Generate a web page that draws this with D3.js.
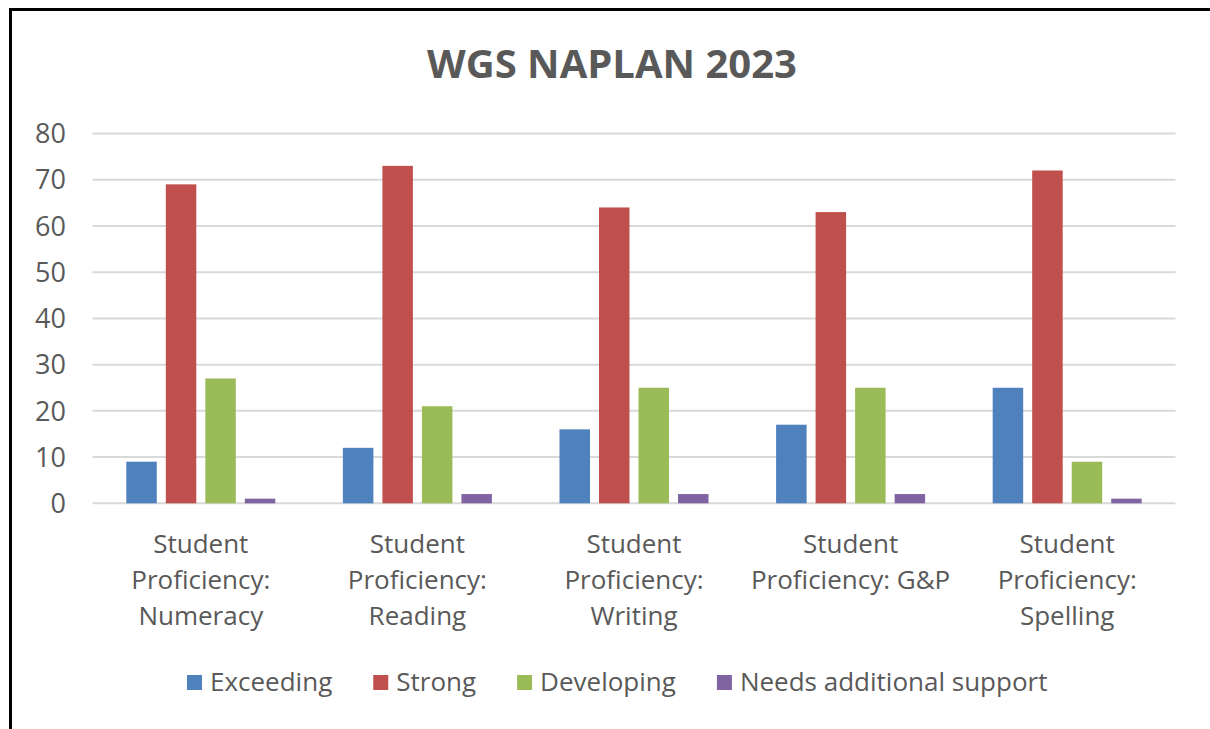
<!DOCTYPE html>
<html>
<head>
<meta charset="utf-8">
<script src="https://cdn.jsdelivr.net/npm/d3@7"></script>
<style>
  body { margin: 0; background: #fff; }
  text { font-family: "Open Sans", sans-serif; fill: #595959; }
</style>
</head>
<body>
<div id="chart"></div>
<script>
// chart data
var title = "WGS NAPLAN 2023";
var categories = ["Student Proficiency: Numeracy", "Student Proficiency: Reading",
                  "Student Proficiency: Writing", "Student Proficiency: G&P",
                  "Student Proficiency: Spelling"];
var seriesNames = ["Exceeding", "Strong", "Developing", "Needs additional support"];
var exceeding  = [9, 12, 16, 17, 25];
var strong     = [69, 73, 64, 63, 72];
var developing = [27, 21, 25, 25, 9];
var needs      = [1, 2, 2, 2, 1];
var colors = ["#4F81BD", "#C0504D", "#9BBB59", "#8064A2"];
var yTicks = [0, 10, 20, 30, 40, 50, 60, 70, 80];

var seriesValues = [exceeding, strong, developing, needs];

var W = 1210, H = 729;
var svg = d3.select("#chart").append("svg")
    .attr("width", W)
    .attr("height", H);

svg.append("rect").attr("width", W).attr("height", H).attr("fill", "#fff");

// frame (only top and left visible in the crop)
svg.append("rect")
    .attr("x", 10.5).attr("y", 9.5)
    .attr("width", W + 20).attr("height", H + 20)
    .attr("fill", "none")
    .attr("stroke", "#000")
    .attr("stroke-width", 3);

var plotLeft = 92.5, plotRight = 1175.5;
var x0 = d3.scaleBand().domain(categories).range([plotLeft, plotRight]);
var bw = x0.bandwidth();
var x1 = d3.scaleBand().domain(seriesNames)
    .range([bw * 0.156, bw * 0.844])
    .paddingInner(0.228).paddingOuter(0);
var y = d3.scaleLinear().domain([0, 80]).range([503.3, 133.5]);

// title
svg.append("text")
    .attr("x", 612).attr("y", 78)
    .attr("text-anchor", "middle")
    .style("font-size", "40px")
    .style("font-weight", "bold")
    .text(title);

// gridlines
svg.append("g").selectAll("line").data(yTicks).enter().append("line")
    .attr("x1", plotLeft).attr("x2", plotRight)
    .attr("y1", function (d) { return y(d); })
    .attr("y2", function (d) { return y(d); })
    .attr("stroke", "#D9D9D9")
    .attr("stroke-width", 2);

// y tick labels
svg.append("g").selectAll("text").data(yTicks).enter().append("text")
    .attr("x", 66)
    .attr("y", function (d) { return y(d); })
    .attr("dy", "0.36em")
    .attr("text-anchor", "end")
    .style("font-size", "27px")
    .text(function (d) { return d; });

// bars
var groups = svg.append("g").selectAll("g").data(categories).enter().append("g")
    .attr("transform", function (d) { return "translate(" + x0(d) + ",0)"; });

groups.selectAll("rect")
    .data(function (d, i) {
      return seriesNames.map(function (s, j) { return {s: s, v: seriesValues[j][i], c: colors[j]}; });
    })
    .enter().append("rect")
    .attr("x", function (d) { return x1(d.s); })
    .attr("y", function (d) { return y(d.v); })
    .attr("width", x1.bandwidth())
    .attr("height", function (d) { return y(0) - y(d.v); })
    .attr("fill", function (d) { return d.c; });

// category labels, wrapped to band width
var labels = svg.append("g").selectAll("text").data(categories).enter().append("text")
    .attr("text-anchor", "middle")
    .style("font-size", "26px");

labels.each(function (d) {
  var el = d3.select(this);
  var cx = x0(d) + bw / 2;
  var words = d.split(" ");
  var lines = [], line = [];
  var probe = el.append("tspan");
  words.forEach(function (w) {
    line.push(w);
    probe.text(line.join(" "));
    if (probe.node().getComputedTextLength() > bw - 4 && line.length > 1) {
      line.pop();
      lines.push(line.join(" "));
      line = [w];
    }
  });
  lines.push(line.join(" "));
  probe.remove();
  lines.forEach(function (l, k) {
    el.append("tspan").attr("x", cx).attr("y", 553 + k * 36).text(l);
  });
});

// legend
var legend = svg.append("g");
var lx = 187;
seriesNames.forEach(function (s, j) {
  legend.append("rect")
      .attr("x", lx).attr("y", 675)
      .attr("width", 15).attr("height", 15)
      .attr("fill", colors[j]);
  var t = legend.append("text")
      .attr("x", lx + 23).attr("y", 691)
      .style("font-size", "26px")
      .text(s);
  lx += 23 + t.node().getComputedTextLength() + 41;
});
</script>
</body>
</html>
